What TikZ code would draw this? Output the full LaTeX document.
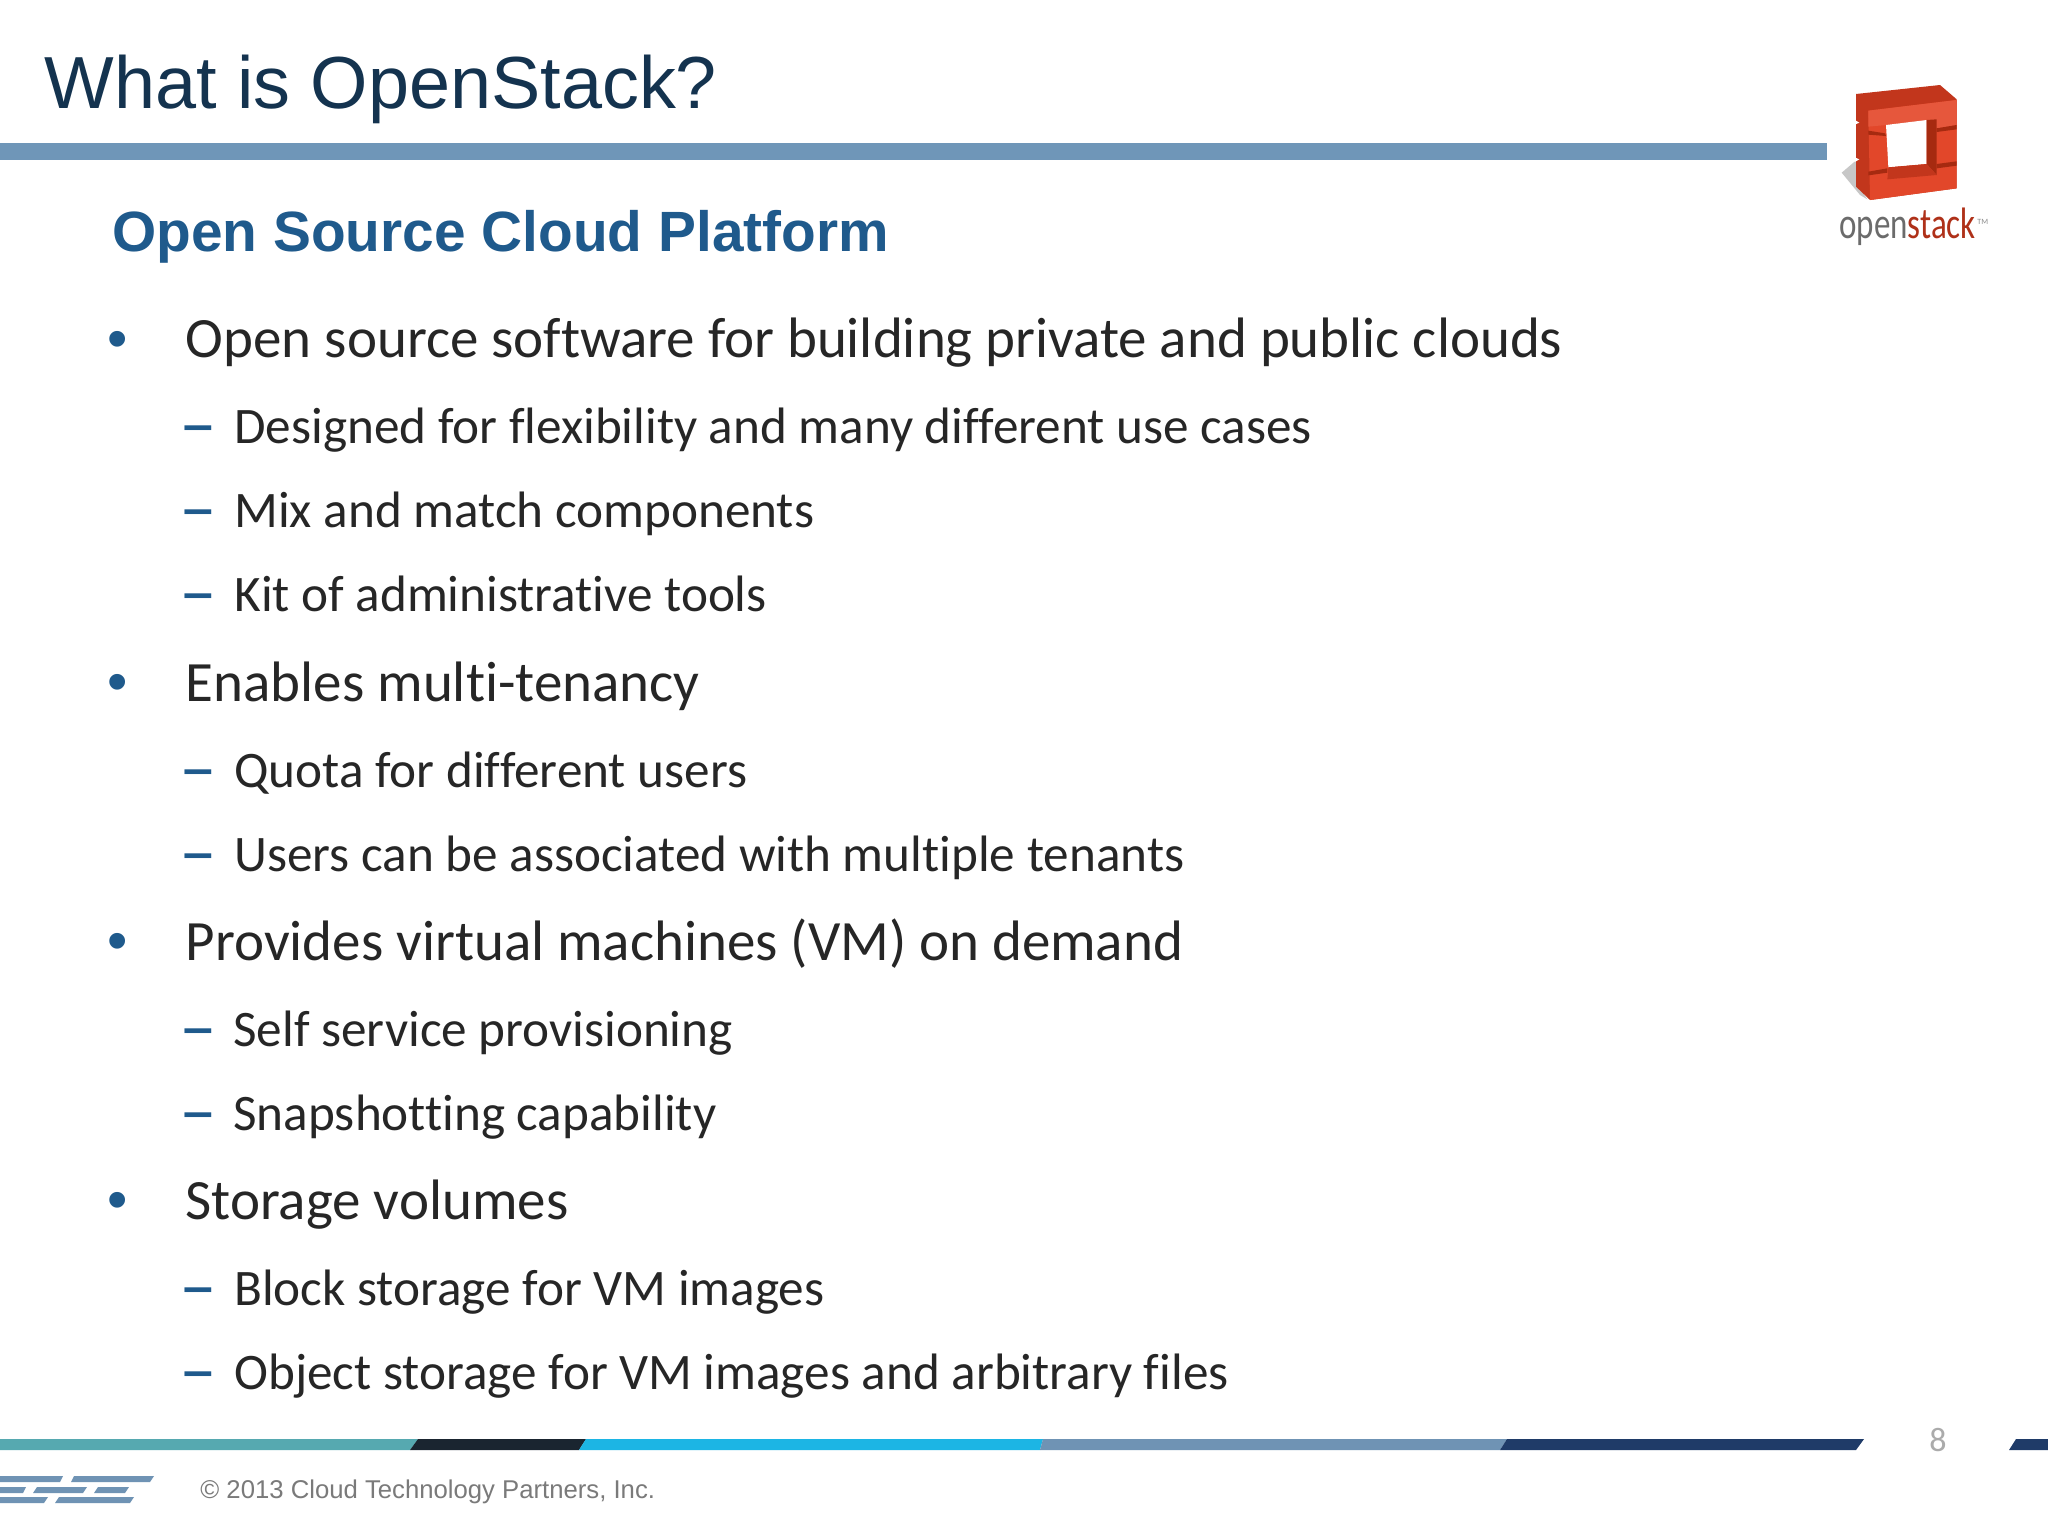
\documentclass[tikz,border=0pt]{standalone}
\usepackage{fontspec}
\usepackage{graphicx}
\setmainfont[Ligatures=NoCommon]{Carlito}
\newfontfamily\arialf{Liberation Sans}
\definecolor{barblue}{HTML}{6F96B8}
\definecolor{titlecol}{HTML}{14334F}
\definecolor{subcol}{HTML}{1F5A8C}
\definecolor{bodycol}{HTML}{262626}
\definecolor{bulletcol}{HTML}{1F5A8C}
\definecolor{tealc}{HTML}{56A9B0}
\definecolor{darkc}{HTML}{1A2530}
\definecolor{cyanc}{HTML}{1CB5E4}
\definecolor{steelc}{HTML}{6F93B4}
\definecolor{navyc}{HTML}{1F3B68}
\definecolor{logomain}{HTML}{E2472A}
\definecolor{logotop}{HTML}{E6573C}
\definecolor{logodark}{HTML}{C2361C}
\definecolor{logodeep}{HTML}{A62A10}
\newcommand{\wdash}{\scalebox{1.4}[1]{–}}
\tikzset{
  lvlone/.style={anchor=base west,inner sep=0pt,text=bodycol,font=\fontsize{28.5}{32}\selectfont},
  lvltwo/.style={anchor=base west,inner sep=0pt,text=bodycol,font=\fontsize{25.6}{29}\selectfont},
  bulletmark/.style={anchor=base,inner sep=0pt,text=bulletcol,font=\arialf\fontsize{29}{32}\selectfont},
  dashmark/.style={anchor=base west,inner sep=0pt,text=bulletcol,font=\bfseries\fontsize{27}{30}\selectfont},
}
\begin{document}
\begin{tikzpicture}[x=0.5pt,y=-0.5pt]
\useasboundingbox (0,0) rectangle (2048,1536);
\fill[white] (0,0) rectangle (2048,1536);
% header
\node[anchor=base west,inner sep=0pt,text=titlecol,font=\arialf\fontsize{36.9}{40}\selectfont] (title) at (44,109) {What is OpenStack?};
\fill[barblue] (0,143) rectangle (1827,160);
\node[anchor=base west,inner sep=0pt,text=subcol,font=\arialf\bfseries\fontsize{28.4}{32}\selectfont] (subtitle) at (112,251) {Open Source Cloud Platform};
% bullets
\node[bulletmark] (b1) at (118,358) {•};
\node[lvlone] (t1) at (185.5,357) {Open source software for building private and public clouds};
\node[dashmark] (d11) at (179.5,443) {\wdash};
\node[lvltwo] (t11) at (234,443) {Designed for flexibility and many different use cases};
\node[dashmark] (d12) at (179.5,527) {\wdash};
\node[lvltwo] (t12) at (234,527) {Mix and match components};
\node[dashmark] (d13) at (179.5,611) {\wdash};
\node[lvltwo] (t13) at (234,611) {Kit of administrative tools};
\node[bulletmark] (b2) at (118,701) {•};
\node[lvlone] (t2) at (185.5,701) {Enables multi-tenancy};
\node[dashmark] (d21) at (179.5,787) {\wdash};
\node[lvltwo] (t21) at (234,787) {Quota for different users};
\node[dashmark] (d22) at (179.5,871) {\wdash};
\node[lvltwo] (t22) at (234,871) {Users can be associated with multiple tenants};
\node[bulletmark] (b3) at (118,960) {•};
\node[lvlone] (t3) at (185.5,960) {Provides virtual machines (VM) on demand};
\node[dashmark] (d31) at (179.5,1046) {\wdash};
\node[lvltwo] (t31) at (233,1046) {Self service provisioning};
\node[dashmark] (d32) at (179.5,1130) {\wdash};
\node[lvltwo] (t32) at (233,1130) {Snapshotting capability};
\node[bulletmark] (b4) at (118,1219) {•};
\node[lvlone] (t4) at (185,1219) {Storage volumes};
\node[dashmark] (d41) at (179.5,1305) {\wdash};
\node[lvltwo] (t41) at (234,1305) {Block storage for VM images};
\node[dashmark] (d42) at (179.5,1389) {\wdash};
\node[lvltwo] (t42) at (234,1389) {Object storage for VM images and arbitrary files};
% footer band
\fill[tealc] (0,1439) -- (418,1439) -- (410,1450) -- (0,1450) -- cycle;
\fill[darkc] (418,1439) -- (586,1439) -- (579,1450) -- (410,1450) -- cycle;
\fill[cyanc] (586,1439) -- (1043,1439) -- (1040,1450) -- (579,1450) -- cycle;
\fill[steelc] (1043,1439) -- (1507,1439) -- (1500,1450) -- (1040,1450) -- cycle;
\fill[navyc] (1507,1439) -- (1864,1439) -- (1856,1450) -- (1500,1450) -- cycle;
\fill[navyc] (2016,1439) -- (2048,1439) -- (2048,1450) -- (2009,1450) -- cycle;
\node[anchor=base,inner sep=0pt,text=black!33,font=\fontsize{17}{20}\selectfont] (pagenum) at (1938,1451) {8};
% footer logo stripes
\fill[steelc] (0,1476) -- (63,1476) -- (60,1482) -- (0,1482) -- cycle;
\fill[steelc] (74,1476) -- (154,1476) -- (150,1482) -- (71,1482) -- cycle;
\fill[steelc] (0,1487) -- (26,1487) -- (23,1493) -- (0,1493) -- cycle;
\fill[steelc] (37,1487) -- (87,1487) -- (83,1493) -- (33,1493) -- cycle;
\fill[steelc] (98,1487) -- (129,1487) -- (125,1493) -- (94,1493) -- cycle;
\fill[steelc] (0,1497) -- (48,1497) -- (44,1503) -- (0,1503) -- cycle;
\fill[steelc] (59,1497) -- (134,1497) -- (130,1503) -- (55,1503) -- cycle;
\node[anchor=base west,inner sep=0pt,text=black!52,font=\arialf\fontsize{12.85}{16}\selectfont] (copy) at (200,1498) {© 2013 Cloud Technology Partners, Inc.};
% OpenStack logo
\begin{scope}[shift={(1780,60)},x=0.16667pt,y=-0.16667pt]
\fill[black!22] (185,338) -- (232,298) -- (240,385) -- (262,418) -- (240,405) -- cycle;
\fill[logodark] (228,102) -- (480,75) -- (530,118) -- (530,385) -- (270,420) -- (228,380) -- cycle;
\fill[logomain] (265,152) -- (530,120) -- (530,385) -- (270,420) -- cycle;
\fill[logotop] (265,152) -- (530,120) -- (530,195) -- (470,205) -- (440,180) -- (318,195) -- (265,200) -- cycle;
\fill[white] (318,195) -- (440,180) -- (440,312) -- (325,322) -- cycle;
\fill[logodeep] (440,180) -- (470,178) -- (470,345) -- (440,312) -- cycle;
\fill[logodark] (325,322) -- (440,312) -- (470,345) -- (322,358) -- cycle;
\fill[logodeep] (265,212) -- (315,220) -- (318,228) -- (265,224) -- cycle;
\fill[logodeep] (470,205) -- (530,195) -- (530,208) -- (470,216) -- cycle;
\fill[logodeep] (265,335) -- (322,325) -- (322,338) -- (265,346) -- cycle;
\fill[logodeep] (470,312) -- (530,304) -- (530,317) -- (470,325) -- cycle;
\fill[white] (224,180) -- (238,188) -- (224,194) -- cycle;
\fill[white] (224,292) -- (238,298) -- (224,306) -- cycle;
\end{scope}
\node[anchor=base west,inner sep=0pt,font=\fontsize{22}{24}\selectfont] (oslogo) at (1839,238) {\scalebox{0.75}[1]{\textcolor{black!58}{open}\textcolor{logodark!90!black}{stack}}};
\node[anchor=base west,inner sep=0pt,text=black!45,font=\fontsize{4}{5}\selectfont] (ostm) at (1977,224) {TM};
\end{tikzpicture}
\end{document}
